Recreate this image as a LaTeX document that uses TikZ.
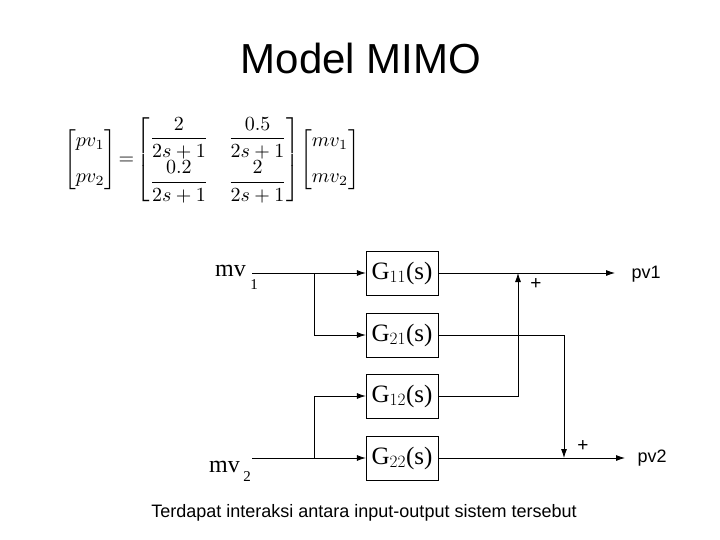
\documentclass[tikz,border=0pt]{standalone}
\usepackage{fontspec}
\usepackage{amsmath}
\setmainfont{Liberation Sans}
\newfontfamily\serifx{Liberation Serif}
\usetikzlibrary{arrows.meta}
\begin{document}
\begin{tikzpicture}[x=1pt,y=-1pt,
  blk/.style={draw,minimum width=72pt,minimum height=44pt,font=\serifx\fontsize{25}{26}\selectfont,inner sep=0pt},
  sig/.style={-{Latex[length=9pt,width=6pt]},line width=0.8pt},
  ln/.style={line width=0.8pt}]
\useasboundingbox (0,0) rectangle (720,540);
\node (title) at (361,58) {\fontsize{42}{46}\selectfont Model MIMO};
\node (eq) at (212,160) {\scalebox{2.0}{$
\begin{bmatrix} pv_1\\[6pt] pv_2\end{bmatrix} \!=\!
\begin{bmatrix} \dfrac{2}{2s+1} & \dfrac{0.5}{2s+1}\\[5pt] \dfrac{0.2}{2s+1} & \dfrac{2}{2s+1}\end{bmatrix}\!
\begin{bmatrix} mv_1\\[6pt] mv_2\end{bmatrix}$}};
\node[blk] (g11) at (402,273) {G$_{11}$(s)};
\node[blk] (g21) at (402,335) {G$_{21}$(s)};
\node[blk] (g12) at (402,396) {G$_{12}$(s)};
\node[blk] (g22) at (402,458) {G$_{22}$(s)};
\node[font=\serifx\fontsize{24}{24}\selectfont,anchor=east,inner sep=1pt] (mv1) at (247,271) {mv};
\node[font=\serifx\fontsize{15}{15}\selectfont] (mv1s) at (254,285) {1};
\node[font=\serifx\fontsize{24}{24}\selectfont,anchor=east,inner sep=1pt] (mv2) at (241,467) {mv};
\node[font=\serifx\fontsize{15}{15}\selectfont,inner sep=0pt] (mv2s) at (247,477) {2};
\coordinate (in1) at (252,273);
\coordinate (in2) at (252,458);
\coordinate (b1) at (314,273);
\coordinate (b2) at (314,458);
\coordinate (s1) at (518,273);
\coordinate (s2) at (564,458);
\coordinate (o1) at (615,273);
\coordinate (o2) at (625,458);
\node[anchor=west,font=\fontsize{18}{18}\selectfont] (pv1) at (628,274) {pv1};
\node[anchor=west,font=\fontsize{18}{18}\selectfont] (pv2) at (634,458) {pv2};
\node[font=\fontsize{19}{19}\selectfont] (p1) at (536,284) {+};
\node[font=\fontsize{19}{19}\selectfont] (p2) at (583,446) {+};
\draw[sig] (in1) -- (g11.west);
\draw[sig] (b1) |- (g21.west);
\draw[sig] (in2) -- (g22.west);
\draw[sig] (b2) |- (g12.west);
\draw[sig] (g11.east) -- (o1);
\draw[sig] (g22.east) -- (o2);
\draw[sig] (g12.east) -| (s1);
\draw[sig] (g21.east) -| (s2);
\node (cap) at (364,513) {\fontsize{18}{20}\selectfont Terdapat interaksi antara input-output sistem tersebut};
\end{tikzpicture}
\end{document}
